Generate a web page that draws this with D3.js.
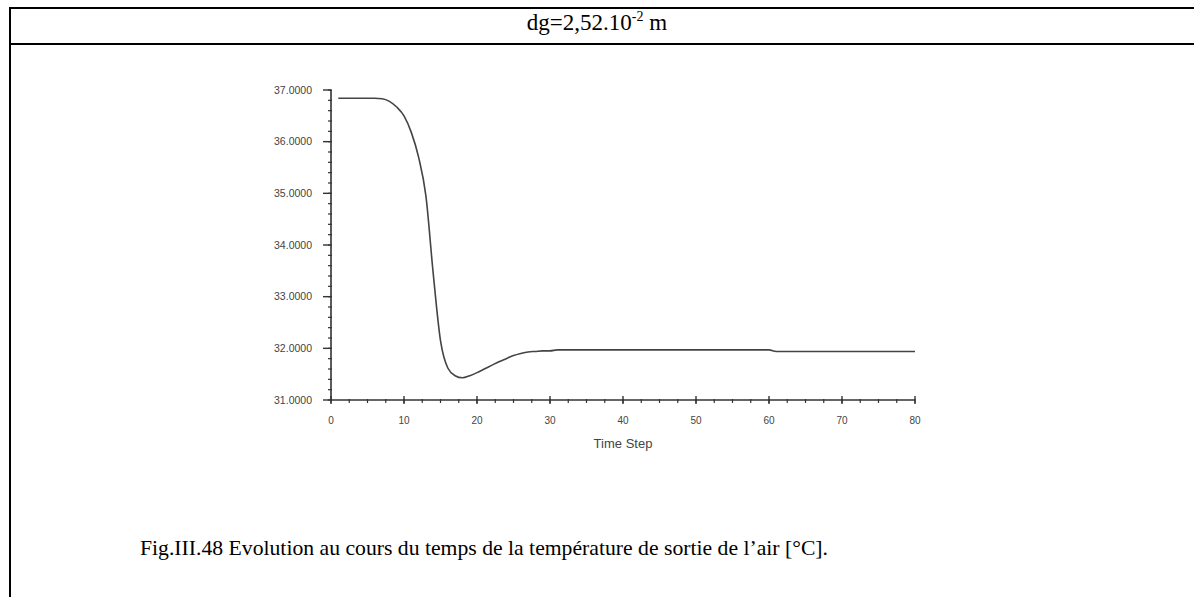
<!DOCTYPE html>
<html><head><meta charset="utf-8">
<script src="https://cdn.jsdelivr.net/npm/d3@7"></script>
<style>html,body{margin:0;padding:0;background:#fff;}svg{display:block;}</style>
</head><body>
<script>
const steps = [1,2,3,4,5,6,7,8,9,10,11,12,13,14,15,16,17,18,19,20,21,22,23,24,25,26,27,28,29,30,
  31,32,33,34,35,36,37,38,39,40,41,42,43,44,45,46,47,48,49,50,51,52,53,54,55,56,57,58,59,60,
  61,62,63,64,65,66,67,68,69,70,71,72,73,74,75,76,77,78,79,80];
const temps = [36.84,36.84,36.84,36.84,36.84,36.84,36.83,36.78,36.67,36.50,
  36.18,35.70,34.95,33.45,32.15,31.62,31.47,31.43,31.47,31.53,
  31.60,31.67,31.74,31.80,31.86,31.90,31.93,31.94,31.95,31.95,
  31.97,31.97,31.97,31.97,31.97,31.97,31.97,31.97,31.97,31.97,
  31.97,31.97,31.97,31.97,31.97,31.97,31.97,31.97,31.97,31.97,
  31.97,31.97,31.97,31.97,31.97,31.97,31.97,31.97,31.97,31.97,
  31.94,31.94,31.94,31.94,31.94,31.94,31.94,31.94,31.94,31.94,
  31.94,31.94,31.94,31.94,31.94,31.94,31.94,31.94,31.94,31.94];
const xTicks = [0,10,20,30,40,50,60,70,80];
const yTicks = [31,32,33,34,35,36,37];
const xLabel = "Time Step";
const headerMain = "dg=2,52.10";
const headerSup = "-2";
const headerEnd = " m";
const caption = "Fig.III.48 Evolution au cours du temps de la température de sortie de l’air [°C].";

const W = 1194, H = 597;
const svg = d3.select("body").append("svg").attr("width", W).attr("height", H);

// frame
const frame = svg.append("g").attr("stroke", "#000").attr("stroke-width", 2);
frame.append("line").attr("x1", 9).attr("x2", W).attr("y1", 8).attr("y2", 8);
frame.append("line").attr("x1", 9).attr("x2", W).attr("y1", 44).attr("y2", 44);
frame.append("line").attr("x1", 10).attr("x2", 10).attr("y1", 7).attr("y2", H);

// header
const ht = svg.append("text").attr("x", W / 2).attr("y", 30).attr("text-anchor", "middle")
  .attr("font-family", "Liberation Serif, Times New Roman, serif").attr("font-size", 23).attr("fill", "#000");
ht.append("tspan").text(headerMain);
ht.append("tspan").attr("font-size", 14).attr("dy", -9).text(headerSup);
ht.append("tspan").attr("dy", 9).text(headerEnd);

// caption
svg.append("text").attr("x", 140).attr("y", 555)
  .attr("font-family", "Liberation Serif, Times New Roman, serif").attr("font-size", 21.7).attr("fill", "#000")
  .text(caption);

// chart
const x = d3.scaleLinear().domain([0, 80]).range([331, 915]);
const y = d3.scaleLinear().domain([31, 37]).range([400, 90]);
const axisColor = "#333";

const g = svg.append("g");
// axis lines
g.append("line").attr("x1", x(0)).attr("x2", x(0)).attr("y1", y(37)).attr("y2", y(31))
  .attr("stroke", axisColor).attr("stroke-width", 1.6);
g.append("line").attr("x1", x(0)).attr("x2", x(80)).attr("y1", y(31)).attr("y2", y(31))
  .attr("stroke", axisColor).attr("stroke-width", 1.6);

// y minor ticks
const yMinor = d3.range(31, 37.001, 0.2);
g.selectAll(".ymin").data(yMinor).join("line")
  .attr("x1", x(0) - 3).attr("x2", x(0) + 1).attr("y1", d => y(d)).attr("y2", d => y(d))
  .attr("stroke", axisColor).attr("stroke-width", 1.2);
// y major
g.selectAll(".ymaj").data(yTicks).join("line")
  .attr("x1", x(0) - 8).attr("x2", x(0)).attr("y1", d => y(d)).attr("y2", d => y(d))
  .attr("stroke", axisColor).attr("stroke-width", 1.4);
g.selectAll(".ylab").data(yTicks).join("text")
  .attr("x", x(0) - 19).attr("y", d => y(d)).attr("dy", "0.35em").attr("text-anchor", "end")
  .attr("font-family", "Liberation Sans, Arial, sans-serif").attr("font-size", 10.5).attr("fill", "#444")
  .text(d => d3.format(".4f")(d));

// x minor ticks
const xMinor = d3.range(0, 80.001, 2.5);
g.selectAll(".xmin").data(xMinor).join("line")
  .attr("x1", d => x(d)).attr("x2", d => x(d)).attr("y1", y(31) - 1).attr("y2", y(31) + 3)
  .attr("stroke", axisColor).attr("stroke-width", 1.2);
g.selectAll(".xmaj").data(xTicks).join("line")
  .attr("x1", d => x(d)).attr("x2", d => x(d)).attr("y1", y(31) - 4).attr("y2", y(31) + 4)
  .attr("stroke", axisColor).attr("stroke-width", 1.4);
g.selectAll(".xlab").data(xTicks).join("text")
  .attr("x", d => x(d)).attr("y", y(31) + 20).attr("dy", "0.35em").attr("text-anchor", "middle")
  .attr("font-family", "Liberation Sans, Arial, sans-serif").attr("font-size", 10).attr("fill", "#444")
  .text(d => d);

g.append("text").attr("x", (x(0) + x(80)) / 2).attr("y", 448).attr("text-anchor", "middle")
  .attr("font-family", "Liberation Sans, Arial, sans-serif").attr("font-size", 13).attr("fill", "#444")
  .text(xLabel);

// curve
const pts = steps.map((s, i) => [s, temps[i]]);
g.append("path").datum(pts)
  .attr("fill", "none").attr("stroke", "#444").attr("stroke-width", 1.6)
  .attr("d", d3.line().x(d => x(d[0])).y(d => y(d[1])).curve(d3.curveMonotoneX));
</script>
</body></html>
